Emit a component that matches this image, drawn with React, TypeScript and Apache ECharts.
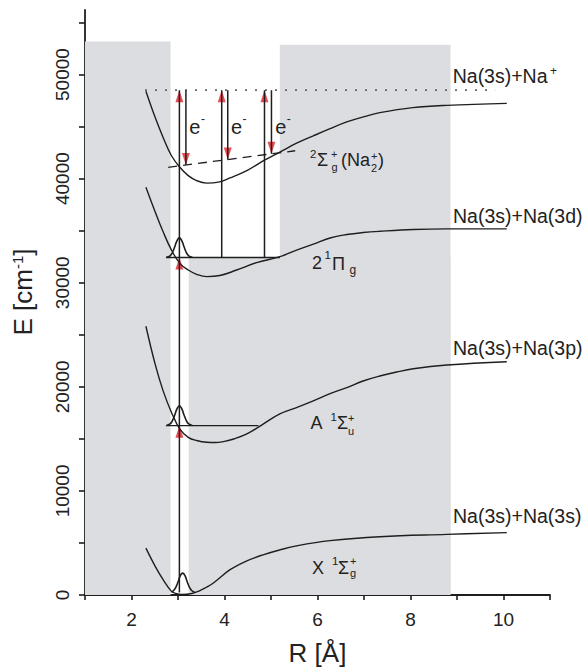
import React, { useEffect, useRef } from "react";
import * as echarts from "echarts";

// ---------- axes ----------
const xTickValues = [1, 2, 3, 4, 5, 6, 7, 8, 9, 10, 11];
const xTickLabels = [2, 4, 6, 8, 10];
const yTickValues = [0, 5000, 10000, 15000, 20000, 25000, 30000, 35000, 40000, 45000, 50000, 55000];
const yTickLabels = [0, 10000, 20000, 30000, 40000, 50000];

// ---------- shaded regions: [R start, R end, E top] ----------
const shadeRStart = [1, 3.23, 5.19];
const shadeREnd = [2.84, 8.86, 8.86];
const shadeETop = [53170, 32430, 52860];

// ---------- potential curves ----------
const groundR = [2.31, 2.51, 2.68, 2.86, 2.95, 3.08, 3.3, 3.45, 3.6, 3.76, 4.12, 4.48, 4.83, 5.19, 5.55, 6.27, 7.34, 8.78, 10.07];
const groundE = [4500, 2750, 1470, 350, 160, 60, 150, 380, 720, 1150, 2430, 3280, 3860, 4330, 4720, 5220, 5600, 5820, 5990];

const aStateR = [2.31, 2.51, 2.68, 2.86, 3.04, 3.22, 3.4, 3.62, 3.8, 4.0, 4.2, 4.48, 4.83, 5.19, 5.55, 5.91, 6.27, 6.63, 6.98, 7.34, 7.7, 8.06, 8.78, 10.07];
const aStateE = [25820, 22150, 19610, 17540, 15940, 15150, 14840, 14670, 14650, 14760, 14990, 15470, 16420, 17400, 18010, 18650, 19350, 19920, 20560, 21040, 21420, 21740, 22090, 22410];

const piStateR = [2.31, 2.51, 2.68, 2.86, 3.04, 3.22, 3.4, 3.62, 3.9, 4.26, 4.69, 5.19, 5.55, 5.91, 6.27, 6.63, 6.98, 7.34, 8.06, 8.78, 10.07];
const piStateE = [39180, 36800, 34890, 33130, 31860, 31220, 30810, 30590, 30690, 31220, 31930, 32500, 33130, 33700, 34300, 34630, 34820, 34940, 35110, 35170, 35170];

const ionR = [2.31, 2.51, 2.68, 2.86, 3.04, 3.22, 3.4, 3.62, 3.87, 4.12, 4.48, 4.83, 5.19, 5.55, 5.91, 6.27, 6.63, 7.0, 7.34, 8.05, 8.78, 10.07];
const ionE = [48400, 45870, 43960, 42200, 41090, 40290, 39810, 39570, 39660, 40070, 40770, 41700, 42550, 43400, 44110, 44800, 45450, 45950, 46340, 46820, 47040, 47230];

// ---------- vibrational wave packets ----------
const wpGroundR = [2.86, 2.9, 2.95, 3.0, 3.05, 3.1, 3.15, 3.2, 3.25, 3.3, 3.36];
const wpGroundE = [260, 410, 720, 1250, 1850, 2100, 1850, 1250, 720, 410, 260];
const wpAR = [2.75, 2.83, 2.88, 2.93, 2.98, 3.03, 3.08, 3.13, 3.18, 3.23, 3.31];
const wpAE = [16290, 16430, 16750, 17290, 17900, 18180, 17900, 17290, 16750, 16430, 16290];
const wpPiR = [2.75, 2.83, 2.88, 2.93, 2.98, 3.03, 3.08, 3.13, 3.18, 3.23, 3.31];
const wpPiE = [32450, 32590, 32900, 33450, 34050, 34310, 34050, 33450, 32900, 32590, 32450];

// ---------- levels ----------
const piLevelR = [2.74, 5.19];
const piLevelE = [32430, 32430];
const aLevelR = [2.74, 4.73];
const aLevelE = [16270, 16270];
const ionLimitR = [2.29, 9.82];
const ionLimitE = [48500, 48500];
const ionLevelR = [2.79, 5.52];
const ionLevelE = [41090, 42680];

// ---------- transitions ----------
const upR = [3.03, 3.94, 4.86];
const upFromE = [250, 32430, 32430];
const upToE = [48500, 48500, 48500];
const downR = [3.17, 4.07, 5.01];
const downFromE = [48500, 48500, 48500];
const downToE = [41310, 41835, 42380];
const upHeadR = [3.03, 3.94, 4.86, 3.03, 3.03];
const upHeadE = [48500, 48500, 48500, 32430, 16270];

const FONT = "'Liberation Sans', Arial, Helvetica, sans-serif";
const INK = "#1e1e1e";
const TXT = "#222";
const GREY = "#dcdde0";
const RED = "#e4202a";

const zip = (r: number[], e: number[]) => r.map((v, i) => [v, e[i]]);

function line(data: number[][], extra: any = {}) {
  return {
    type: "line",
    data,
    symbol: "none",
    silent: true,
    z: 4,
    lineStyle: { color: INK, width: 1.4 },
    ...extra,
  };
}

function txt(text: string, x: number, y: number, size: number, extra: any = {}) {
  return {
    type: "text",
    x,
    y,
    z: 20,
    silent: true,
    style: {
      text,
      fontSize: size,
      fontFamily: FONT,
      fill: TXT,
      align: "left",
      verticalAlign: "middle",
      textAlign: "left",
      textVerticalAlign: "middle",
      ...extra,
    },
  };
}

function buildOption() {
  const series: any[] = [];

  series.push({
    type: "custom",
    silent: true,
    z: 1,
    data: shadeRStart.map((r, i) => [r, shadeREnd[i], shadeETop[i]]),
    encode: { x: [0, 1], y: 2 },
    renderItem: (params: any, api: any) => {
      const p0 = api.coord([api.value(0), api.value(2)]);
      const p1 = api.coord([api.value(1), 0]);
      return {
        type: "rect",
        shape: { x: p0[0], y: p0[1], width: p1[0] - p0[0], height: p1[1] - p0[1] },
        style: { fill: GREY },
      };
    },
  });

  series.push(line(zip(groundR, groundE), { smooth: 0.4 }));
  series.push(line(zip(aStateR, aStateE), { smooth: 0.4 }));
  series.push(line(zip(piStateR, piStateE), { smooth: 0.4 }));
  series.push(line(zip(ionR, ionE), { smooth: 0.4 }));

  series.push(line(zip(wpGroundR, wpGroundE), { smooth: 0.5, lineStyle: { color: INK, width: 1.6 } }));
  series.push(line(zip(wpAR, wpAE), { smooth: 0.5, lineStyle: { color: INK, width: 1.6 } }));
  series.push(line(zip(wpPiR, wpPiE), { smooth: 0.5, lineStyle: { color: INK, width: 1.6 } }));

  series.push(line(zip(piLevelR, piLevelE), { lineStyle: { color: INK, width: 1.4 } }));
  series.push(line(zip(aLevelR, aLevelE), { lineStyle: { color: INK, width: 1.4 } }));
  series.push(line(zip(ionLimitR, ionLimitE), { lineStyle: { color: "#666", width: 1.6, type: [2, 8] } }));
  series.push(line(zip(ionLevelR, ionLevelE), { lineStyle: { color: INK, width: 1.3, type: [9, 6] } }));

  upR.forEach((r, i) => {
    series.push(line([[r, upFromE[i]], [r, upToE[i]]], { lineStyle: { color: INK, width: 1.5 } }));
  });
  downR.forEach((r, i) => {
    series.push(line([[r, downFromE[i]], [r, downToE[i]]], { lineStyle: { color: INK, width: 1.5 } }));
  });

  series.push({
    type: "scatter",
    silent: true,
    z: 3,
    data: zip(upHeadR, upHeadE),
    symbol: "path://M5 0 L10 16 L0 16 Z",
    symbolSize: [8, 12],
    symbolOffset: [0, 6],
    itemStyle: { color: RED },
  });
  series.push({
    type: "scatter",
    silent: true,
    z: 3,
    data: zip(downR, downToE),
    symbol: "path://M0 0 L10 0 L5 16 Z",
    symbolSize: [8, 12],
    symbolOffset: [0, -6],
    itemStyle: { color: RED },
  });

  const graphic: any[] = [
    // asymptote labels
    txt("Na(3s)+Na", 452.7, 76, 19.5),
    txt("+", 550, 71, 12),
    txt("Na(3s)+Na(3d)", 453, 216, 19.5),
    txt("Na(3s)+Na(3p)", 453, 348, 19.5),
    txt("Na(3s)+Na(3s)", 453, 516, 19.5),
    // ion state
    txt("2", 310, 154, 11.5),
    txt("Σ", 317, 159.5, 18),
    txt("+", 331, 154, 11),
    txt("g", 331.5, 167, 11),
    txt("(Na", 341, 160, 18),
    txt("+", 371, 155.5, 11),
    txt("2", 371, 168, 11),
    txt(")", 378, 160, 18),
    // 2 1Pi g
    txt("2", 312, 263, 18),
    txt("1", 324.5, 255, 11.5),
    txt("Π", 332, 264, 18),
    txt("g", 349.5, 269.5, 12),
    // A 1Sigma u+
    txt("A", 310.5, 423, 18),
    txt("1", 330.5, 417, 11.5),
    txt("Σ", 337, 423, 18),
    txt("+", 348, 417.5, 11),
    txt("u", 348, 430.5, 11),
    // X 1Sigma g+
    txt("X", 312, 567.5, 18),
    txt("1", 332, 561, 11.5),
    txt("Σ", 338, 567.5, 18),
    txt("+", 350, 560.5, 11),
    txt("g", 350, 573, 11),
    // electrons
    txt("e", 189.3, 127, 20),
    txt("-", 201, 119, 12),
    txt("e", 231, 127, 20),
    txt("-", 242.5, 119, 12),
    txt("e", 275.2, 127, 20),
    txt("-", 286.7, 119, 12),
    // y axis title
    {
      type: "text",
      x: 22.5,
      y: 292,
      rotation: Math.PI / 2,
      z: 20,
      silent: true,
      style: {
        text: "E [cm{s|-1}]",
        fontSize: 26,
        fontFamily: FONT,
        fill: TXT,
        align: "center",
        verticalAlign: "middle",
        textAlign: "center",
        textVerticalAlign: "middle",
        rich: {
          s: { fontSize: 15, fontFamily: FONT, fill: TXT, verticalAlign: "top", padding: [0, 0, 10, 0] },
        },
      },
    },
  ];

  return {
    animation: false,
    backgroundColor: "#ffffff",
    grid: { left: 85, right: 35, top: 10, bottom: 72.3, containLabel: false },
    xAxis: {
      type: "value",
      min: 1,
      max: 11,
      interval: 1,
      name: "R [Å]",
      nameLocation: "middle",
      nameGap: 45,
      nameTextStyle: { fontSize: 26, fontFamily: FONT, color: TXT },
      axisLine: { show: true, onZero: false, lineStyle: { color: INK, width: 1.8 } },
      axisTick: { show: true, length: 5, customValues: xTickValues, lineStyle: { color: INK, width: 1.6 } },
      axisLabel: {
        customValues: xTickLabels,
        fontSize: 19,
        fontFamily: FONT,
        color: TXT,
        margin: 15,
        formatter: (v: number) => String(v),
      },
      splitLine: { show: false },
    },
    yAxis: {
      type: "value",
      min: 0,
      max: 56200,
      interval: 5000,
      axisLine: { show: true, onZero: false, lineStyle: { color: INK, width: 1.8 } },
      axisTick: { show: true, length: 6, customValues: yTickValues, lineStyle: { color: INK, width: 1.6 } },
      axisLabel: {
        customValues: yTickLabels,
        rotate: 90,
        fontSize: 19,
        fontFamily: FONT,
        color: TXT,
        margin: 13,
        formatter: (v: number) => String(v),
      },
      splitLine: { show: false },
    },
    series,
    graphic,
  };
}

export default function App() {
  const ref = useRef<HTMLDivElement>(null);
  useEffect(() => {
    if (!ref.current) return;
    const chart = echarts.init(ref.current, null, { renderer: "svg" });
    chart.setOption(buildOption() as any);
    return () => chart.dispose();
  }, []);
  return (
    <div
      ref={ref}
      style={{ position: "fixed", left: 0, top: 0, width: 585, height: 671, background: "#fff" }}
    />
  );
}
